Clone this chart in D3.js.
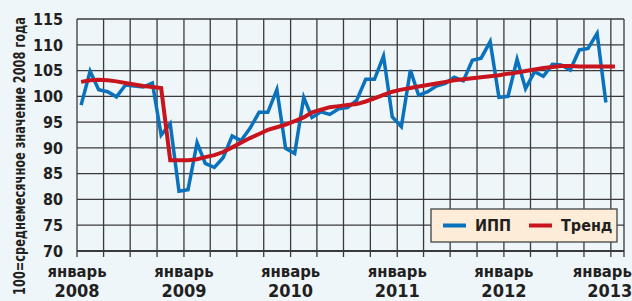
<!DOCTYPE html>
<html>
<head>
<meta charset="utf-8">
<script src="https://cdn.jsdelivr.net/npm/d3@7"></script>
<style>
  html, body { margin: 0; padding: 0; background: #eef6fa; }
  svg { display: block; }
  text { font-family: "Liberation Sans Narrow", "DejaVu Sans Condensed", sans-serif; font-weight: bold; fill: #231f20; }
</style>
</head>
<body>
<div id="chart"></div>
<script>
// ИПП, помесячно, январь 2008 - декабрь 2012
const ipp = [
  98.3, 104.9, 101.3, 100.9, 99.9, 102.2, 102.0, 101.8, 102.6, 92.5, 94.7, 81.6,
  81.9, 91.0, 87.0, 86.2, 88.1, 92.3, 91.4, 93.8, 96.9, 96.9, 101.3, 89.9,
  88.9, 99.8, 95.9, 97.0, 96.5, 97.6, 97.8, 99.2, 103.3, 103.3, 107.8, 96.0,
  94.1, 105.1, 100.2, 100.9, 102.0, 102.5, 103.7, 103.0, 107.0, 107.4, 110.6, 99.8,
  100.0, 107.2, 101.5, 104.8, 103.9, 106.2, 106.1, 105.1, 109.0, 109.3, 112.2, 98.8
];
// Тренд, январь 2008 - январь 2013
const trend = [
  102.8, 103.1, 103.2, 103.1, 102.9, 102.6, 102.3, 102.0, 101.8, 101.6, 87.6, 87.6,
  87.6, 87.8, 88.2, 88.6, 89.2, 90.1, 91.0, 91.9, 92.7, 93.5, 94.0, 94.5,
  95.2, 95.9, 96.9, 97.4, 97.9, 98.1, 98.3, 98.5, 99.0, 99.6, 100.3, 100.9,
  101.3, 101.6, 101.9, 102.2, 102.5, 102.8, 103.1, 103.3, 103.5, 103.7, 103.9, 104.1,
  104.4, 104.6, 104.9, 105.2, 105.5, 105.7, 105.9, 105.9, 105.8, 105.8, 105.8, 105.8,
  105.8
];
const years = [2008, 2009, 2010, 2011, 2012, 2013];
const yTicks = [70, 75, 80, 85, 90, 95, 100, 105, 110, 115];
const legendItems = [
  {name: 'ИПП', color: '#0a72bc'},
  {name: 'Тренд', color: '#c8151d'}
];
const yTitle = '100=среднемесячное значение 2008 года';

const width = 632, height = 301;
const margin = {top: 19, right: 8, bottom: 50, left: 77};

const svg = d3.select('#chart').append('svg')
  .attr('width', width)
  .attr('height', height);

const x = d3.scaleTime()
  .domain([new Date(2008, 0, 1), new Date(2013, 1, 15)])
  .range([margin.left, width - margin.right]);
const y = d3.scaleLinear()
  .domain([70, 115])
  .range([height - margin.bottom, margin.top]);

const month = i => new Date(2008, i, 15);

// сетка
const gridMonths = d3.timeMonth.every(3).range(new Date(2008, 0, 1), new Date(2013, 0, 2));
svg.append('g')
  .selectAll('line')
  .data(gridMonths)
  .join('line')
  .attr('x1', d => x(d)).attr('x2', d => x(d))
  .attr('y1', y(115)).attr('y2', y(70) + 6)
  .style('stroke', '#3a3a3a')
  .style('stroke-width', 1.3);

svg.append('g')
  .selectAll('line')
  .data(yTicks)
  .join('line')
  .attr('x1', x.range()[0]).attr('x2', x.range()[1])
  .attr('y1', d => y(d)).attr('y2', d => y(d))
  .style('stroke', '#3a3a3a')
  .style('stroke-width', d => d === 70 ? 2 : 1.3);

svg.append('line')
  .attr('x1', x.range()[1]).attr('x2', x.range()[1])
  .attr('y1', y(115)).attr('y2', y(70) + 6)
  .style('stroke', '#3a3a3a')
  .style('stroke-width', 1.3);

// подписи оси Y
svg.append('g')
  .selectAll('text')
  .data(yTicks)
  .join('text')
  .attr('x', 63)
  .attr('y', d => y(d))
  .attr('dy', '0.36em')
  .attr('text-anchor', 'end')
  .style('font-size', '16px')
  .text(d => d);

// подписи оси X
const xl = svg.append('g')
  .selectAll('g')
  .data(years)
  .join('g')
  .attr('transform', d => 'translate(' + x(new Date(d, 0, 1)) + ',0)');
xl.append('text')
  .attr('x', (d, i) => i === years.length - 1 ? 21 : 0)
  .attr('y', 277)
  .attr('text-anchor', (d, i) => i === years.length - 1 ? 'end' : 'middle')
  .style('font-size', '16.5px')
  .text('январь');
xl.append('text')
  .attr('x', (d, i) => i === years.length - 1 ? -1 : 0)
  .attr('y', 297)
  .attr('text-anchor', 'middle')
  .style('font-size', '18px')
  .text(d => d);

// заголовок оси Y: сжимаем по длине, чтобы уместился по высоте
const title = svg.append('text')
  .attr('text-anchor', 'middle')
  .style('font-size', '15px')
  .text(yTitle);
const natural = title.node().getComputedTextLength();
const sx = Math.min(1, 278 / natural);
title.attr('transform', 'translate(25,156) rotate(-90) scale(' + sx + ',1)');

// линии
const line = d3.line()
  .x((d, i) => x(month(i)))
  .y(d => y(d));

svg.append('path')
  .datum(ipp)
  .attr('d', line)
  .style('fill', 'none')
  .style('stroke', legendItems[0].color)
  .style('stroke-width', 3.5)
  .style('stroke-linejoin', 'miter');

svg.append('path')
  .datum(trend)
  .attr('d', line)
  .style('fill', 'none')
  .style('stroke', legendItems[1].color)
  .style('stroke-width', 4);

// легенда
const legend = svg.append('g').attr('transform', 'translate(431,209)');
legend.append('rect')
  .attr('width', 186).attr('height', 33)
  .style('fill', '#fdecd8')
  .style('stroke', '#444')
  .style('stroke-width', 1.3);
const li = legend.selectAll('g.item')
  .data(legendItems)
  .join('g')
  .attr('class', 'item')
  .attr('transform', (d, i) => 'translate(' + (12 + i * 86) + ',16.5)');
li.append('line')
  .attr('x1', 0).attr('x2', 23)
  .style('stroke', d => d.color)
  .style('stroke-width', 4);
li.append('text')
  .attr('x', 32)
  .attr('dy', '0.36em')
  .style('font-size', '16px')
  .text(d => d.name);
</script>
</body>
</html>
